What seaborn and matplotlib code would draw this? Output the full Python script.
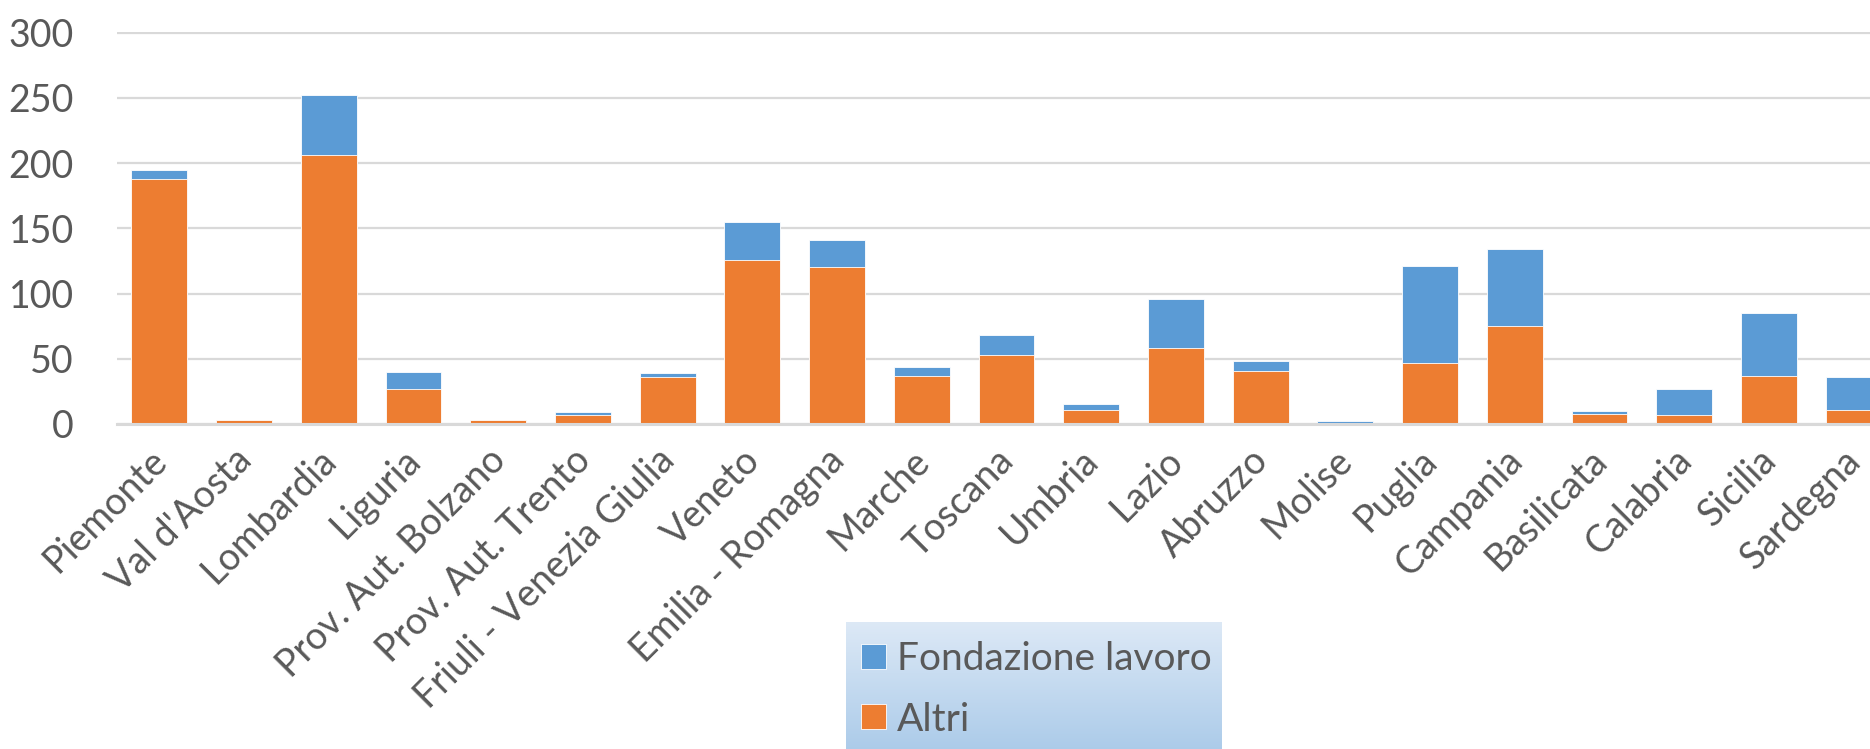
import numpy as np
import pandas as pd
import seaborn as sns
import matplotlib.pyplot as plt
import matplotlib.transforms as mtransforms

# data
regioni = ["Piemonte", "Val d'Aosta", "Lombardia", "Liguria", "Prov. Aut. Bolzano",
           "Prov. Aut. Trento", "Friuli - Venezia Giulia", "Veneto", "Emilia - Romagna",
           "Marche", "Toscana", "Umbria", "Lazio", "Abruzzo", "Molise", "Puglia",
           "Campania", "Basilicata", "Calabria", "Sicilia", "Sardegna"]
altri = [188, 3, 206, 27, 3, 7, 36, 126, 120, 37, 53, 11, 58, 41, 0, 47, 75, 8, 7, 37, 11]
fondazione = [7, 0, 46, 13, 0, 2, 3, 29, 21, 7, 15, 4, 38, 7, 2.5, 74, 59, 2, 20, 48, 25]
yticks = [0, 50, 100, 150, 200, 250, 300]

blue = "#5B9BD5"
orange = "#ED7D31"
grey_txt = "#595959"
grid_col = "#D9D9D9"

sns.set_style("white")
plt.rcParams['font.family'] = ['Lato', 'DejaVu Sans']

df = pd.DataFrame({"regione": regioni, "altri": altri, "fondazione": fondazione})
df["totale"] = df["altri"] + df["fondazione"]

W, H = 1870, 749
fig = plt.figure(figsize=(W / 100, H / 100), dpi=100)
ax = fig.add_axes([117 / W, 1 - 424 / H, 1779 / W, (424 - 32) / H])

# stacked bars: total in blue, Altri drawn over it in orange
sns.barplot(data=df, x="regione", y="totale", color=blue, saturation=1, width=0.66,
            edgecolor="white", linewidth=0.6, label="Fondazione lavoro", ax=ax)
sns.barplot(data=df, x="regione", y="altri", color=orange, saturation=1, width=0.66,
            edgecolor="white", linewidth=0.6, label="Altri", ax=ax)

ax.set_xlim(-0.5, len(regioni) - 0.5)
ax.set_ylim(0, 300.5)
ax.set_yticks(yticks)
ax.set_xlabel("")
ax.set_ylabel("")
ax.yaxis.grid(True, color=grid_col, linewidth=1.6)
ax.set_axisbelow(True)
for s in ["top", "right", "left"]:
    ax.spines[s].set_visible(False)
ax.spines["bottom"].set_color(grid_col)
ax.spines["bottom"].set_linewidth(2.2)

ax.tick_params(axis="y", length=0, pad=31, labelsize=27, labelcolor=grey_txt)
ax.tick_params(axis="x", length=0, pad=13, labelsize=27, labelcolor=grey_txt)
shift = mtransforms.ScaledTranslation(-8 / 72, 0, fig.dpi_scale_trans)
for lab in ax.get_xticklabels():
    lab.set_rotation(45)
    lab.set_ha("right")
    lab.set_rotation_mode("anchor")
    lab.set_transform(lab.get_transform() + shift)

handles, labels = ax.get_legend_handles_labels()
if ax.get_legend() is not None:
    ax.get_legend().remove()

# legend box with a light blue gradient
lax = fig.add_axes([846 / W, -0.05, 376 / W, (749 - 622) / H + 0.05])
grad = np.linspace(0, 1, 256).reshape(-1, 1)
cmap = sns.blend_palette(["#DDE9F6", "#9EC3E6"], as_cmap=True)
lax.imshow(grad, cmap=cmap, aspect="auto", extent=[0, 1, 0, 1], origin="upper")
lax.set_axis_off()
lax.legend(handles, labels, loc="upper left", bbox_to_anchor=(842 / W, 1 - 622 / H),
           bbox_transform=fig.transFigure, frameon=False, fontsize=28,
           handlelength=0.62, handleheight=0.62, handletextpad=0.3,
           labelspacing=0.62, borderpad=0, labelcolor=grey_txt)

fig.savefig("out.png", dpi=100)
